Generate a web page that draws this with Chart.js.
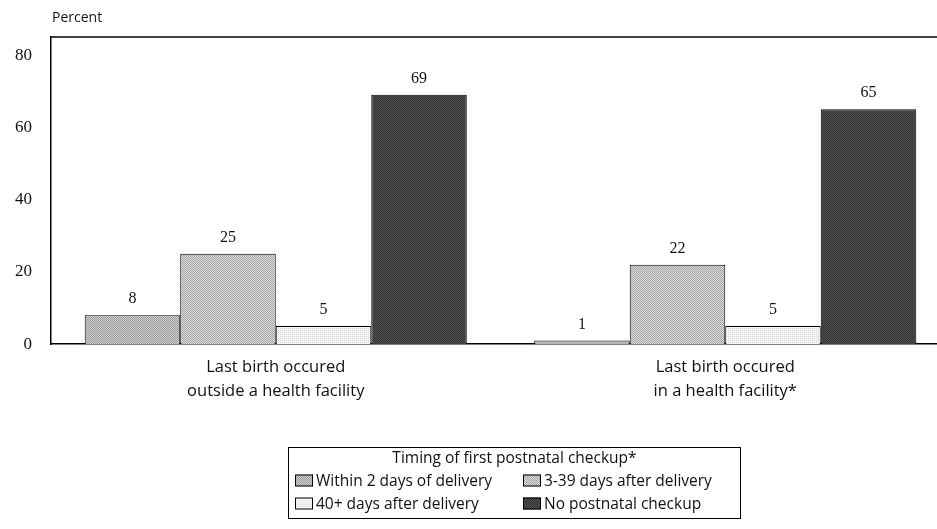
<!DOCTYPE html>
<html>
<head>
<meta charset="utf-8">
<script src="https://cdn.jsdelivr.net/npm/chart.js@4/dist/chart.umd.min.js"></script>
<style>
  html, body { margin: 0; padding: 0; background: #fff; overflow: hidden; }
  #wrap { width: 950px; height: 529px; }
</style>
</head>
<body>
<div id="wrap"><canvas id="myChart" width="950" height="529"></canvas></div>
<script>
// donnees
const categories = [
  ['Last birth occured', 'outside a health facility'],
  ['Last birth occured', 'in a health facility*']
];
const seriesNames = [
  'Within 2 days of delivery',
  '3-39 days after delivery',
  '40+ days after delivery',
  'No postnatal checkup'
];
const within2 = [8, 1];
const days3to39 = [25, 22];
const days40plus = [5, 5];
const noCheckup = [69, 65];
const yTicks = [0, 20, 40, 60, 80];
const yTitle = 'Percent';
const legendTitle = 'Timing of first postnatal checkup*';

const SERIF = "'Liberation Serif', 'DejaVu Serif', serif";
const SANS = "'Open Sans', 'Noto Sans', sans-serif";

// petits motifs tramés pour imiter les remplissages
function makePattern(a, b, kind) {
  const c = document.createElement('canvas');
  c.width = 4; c.height = 4;
  const g = c.getContext('2d');
  for (let y = 0; y < 4; y++) {
    for (let x = 0; x < 4; x++) {
      let on;
      if (kind === 'diag') on = (x + y) % 2 === 0 || (x - y + 4) % 4 === 0;
      else if (kind === 'check') on = (x + y) % 2 === 0;
      else on = (x % 2 === 0 && y % 2 === 0);
      g.fillStyle = on ? a : b;
      g.fillRect(x, y, 1, 1);
    }
  }
  return g.createPattern(c, 'repeat');
}

const canvas = document.getElementById('myChart');
const ctx = canvas.getContext('2d');

const fills = [
  makePattern('#9a9a9a', '#d0d0d0', 'diag'),
  makePattern('#a4a4a4', '#dcdcdc', 'check'),
  makePattern('#d8d8d8', '#f6f6f6', 'dots'),
  makePattern('#2e2e2e', '#555555', 'check')
];

const seriesValues = [within2, days3to39, days40plus, noCheckup];

const data = {
  labels: categories,
  datasets: seriesValues.map((vals, i) => ({
    label: seriesNames[i],
    data: vals,
    backgroundColor: fills[i],
    borderColor: '#000',
    borderWidth: 1,
    borderSkipped: 'bottom',
    categoryPercentage: 0.85,
    barPercentage: 1.0
  }))
};

// valeurs au-dessus des barres, cadre du haut, titre "Percent"
const valueLabels = {
  id: 'valueLabels',
  afterDatasetsDraw(chart) {
    const c = chart.ctx;
    const a = chart.chartArea;
    c.save();
    c.font = '16px ' + SERIF;
    c.fillStyle = '#111';
    c.textAlign = 'center';
    c.textBaseline = 'bottom';
    chart.data.datasets.forEach((ds, i) => {
      chart.getDatasetMeta(i).data.forEach((bar, j) => {
        c.fillText(ds.data[j], bar.x, bar.y - 8);
      });
    });
    c.strokeStyle = '#000';
    c.lineWidth = 1.5;
    c.beginPath();
    c.moveTo(a.left, a.top);
    c.lineTo(a.right, a.top);
    c.stroke();
    c.font = '14px ' + SANS;
    c.textAlign = 'left';
    c.textBaseline = 'middle';
    c.fillText(yTitle, a.left + 1, 18);
    c.restore();
  }
};

// légende encadrée en 2 colonnes
const boxLegend = {
  id: 'boxLegend',
  afterDraw(chart) {
    const c = chart.ctx;
    const x0 = 288.5, y0 = 447.5, w = 452, h = 71;
    c.save();
    c.strokeStyle = '#000';
    c.lineWidth = 1;
    c.strokeRect(x0, y0, w, h);
    c.font = '15.5px ' + SANS;
    c.fillStyle = '#111';
    c.textAlign = 'center';
    c.textBaseline = 'middle';
    c.fillText(legendTitle, x0 + w / 2, y0 + 11);
    c.textAlign = 'left';
    const cols = [295, 523];
    const rows = [y0 + 33, y0 + 56];
    chart.data.datasets.forEach((ds, i) => {
      const sx = cols[i % 2], sy = rows[Math.floor(i / 2)];
      c.fillStyle = ds.backgroundColor;
      c.fillRect(sx, sy - 6, 18, 12);
      c.strokeStyle = '#000';
      c.strokeRect(sx + 0.5, sy - 5.5, 17, 11);
      c.fillStyle = '#111';
      c.fillText(ds.label, sx + 21, sy + 1);
    });
    c.restore();
  }
};

const options = {
  responsive: false,
  animation: false,
  layout: { padding: { left: 0, right: 0, top: 37, bottom: 115 } },
  scales: {
    y: {
      min: 0,
      max: 85,
      afterBuildTicks(scale) {
        scale.ticks = yTicks.map(v => ({ value: v }));
      },
      afterFit(scale) {
        scale.width = 51;
      },
      grid: { display: false, drawTicks: false },
      border: { display: true, color: '#000', width: 1.5 },
      ticks: { padding: 19, color: '#111', font: { family: SERIF, size: 17 } }
    },
    x: {
      grid: { display: false, drawTicks: false },
      border: { display: true, color: '#000', width: 1.5 },
      ticks: { padding: 11, color: '#111', font: { family: SANS, size: 16.5, lineHeight: 1.45 } }
    }
  },
  plugins: {
    legend: { display: false },
    tooltip: { enabled: false },
    title: { display: false }
  }
};

const myChart = new Chart(ctx, {
  type: 'bar',
  data: data,
  options: options,
  plugins: [valueLabels, boxLegend]
});
</script>
</body>
</html>
